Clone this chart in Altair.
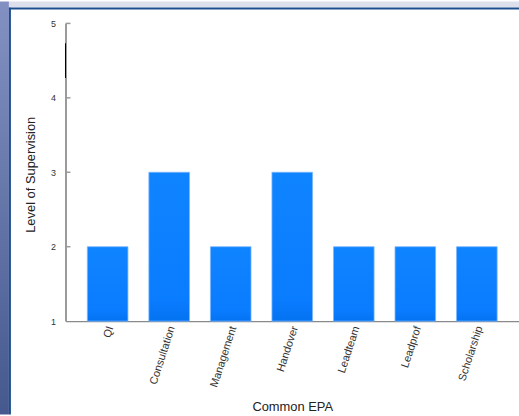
import altair as alt
import pandas as pd

categories = ["QI", "Consultation", "Management", "Handover", "Leadteam", "Leadprof", "Scholarship"]
levels = [2, 3, 2, 3, 2, 2, 2]
y_tick_values = [1, 2, 3, 4, 5]
inner_ticks = [2, 3, 4, 5]

df = pd.DataFrame({"epa": categories, "level": levels})
ticks_df = pd.DataFrame({"t": inner_ticks})
one = pd.DataFrame({"a": [0]})

FONT = "Liberation Sans"
y_scale = alt.Scale(domain=[1, 5], zero=False, nice=False)
x_scale = alt.Scale(paddingInner=0.34, paddingOuter=0.355)

y_axis = alt.Axis(values=y_tick_values, format="d", ticks=False, labelFontSize=9,
                  labelColor="#333333", labelFont=FONT, labelPadding=10,
                  domainColor="#9a9a9a", domainWidth=2,
                  titleFont=FONT, titleFontSize=13, titleFontWeight="normal",
                  titleColor="#222222", titleX=-35, titleY=152,
                  titleAlign="center", titleBaseline="middle")

bar_fill = alt.Gradient(
    gradient="linear", x1=0, x2=0, y1=0, y2=1,
    stops=[alt.GradientStop(color="#0f84ff", offset=0),
           alt.GradientStop(color="#0a7cff", offset=0.85),
           alt.GradientStop(color="#0473f2", offset=1)],
)

bars = alt.Chart(df).mark_bar(fill=bar_fill, stroke="#7ab6ff", strokeWidth=0.8).encode(
    x=alt.X("epa:N", sort=categories, scale=x_scale, title="Common EPA",
            axis=alt.Axis(labelAngle=-72, labelFontSize=11, labelPadding=5, labelOffset=3,
                          labelColor="#333333",
                          labelFont=FONT, ticks=False, domainColor="#8a8a8a", domainWidth=1.5,
                          titleFont=FONT, titleFontSize=13, titleFontWeight="normal",
                          titleColor="#222222", titleY=86, titleBaseline="middle")),
    y=alt.Y("level:Q", scale=y_scale, title="Level of Supervision", axis=y_axis),
    y2=alt.datum(1),
)

ticks = alt.Chart(ticks_df).mark_rule(color="#9a9a9a", strokeWidth=1.5).encode(
    y=alt.Y("t:Q", scale=y_scale, title="Level of Supervision", axis=y_axis),
    x=alt.value(0), x2=alt.value(5),
)

artifact = alt.Chart(one).mark_rule(color="#000000", strokeWidth=1).encode(
    x=alt.value(0), y=alt.value(20), y2=alt.value(55)
)

left_fill = alt.Gradient(
    gradient="linear", x1=0, x2=0, y1=0, y2=1,
    stops=[alt.GradientStop(color="#8391c2", offset=0),
           alt.GradientStop(color="#45598f", offset=1)],
)
left_strip = alt.Chart(one).mark_rect(fill=left_fill).encode(
    x=alt.value(-66), x2=alt.value(-57), y=alt.value(-22), y2=alt.value(394)
)
left_line = alt.Chart(one).mark_rect(color="#1d4f8e").encode(
    x=alt.value(-57), x2=alt.value(-55), y=alt.value(-16), y2=alt.value(394)
)
top_strip = alt.Chart(one).mark_rect(color="#dde0ec").encode(
    x=alt.value(-57), x2=alt.value(460), y=alt.value(-22), y2=alt.value(-16)
)
top_line = alt.Chart(one).mark_rect(color="#1d4f8e").encode(
    x=alt.value(-57), x2=alt.value(460), y=alt.value(-16), y2=alt.value(-14)
)

chart = alt.layer(bars, ticks, artifact, left_strip, left_line, top_strip, top_line).properties(
    width=457, height=300,
    autosize=alt.AutoSizeParams(type="none"),
    padding={"left": 66, "top": 22, "right": 0, "bottom": 94},
    background="white",
).configure_view(stroke=None).configure_axis(grid=False)

chart.save("out.html", embed_options={"renderer": "svg", "actions": False})
